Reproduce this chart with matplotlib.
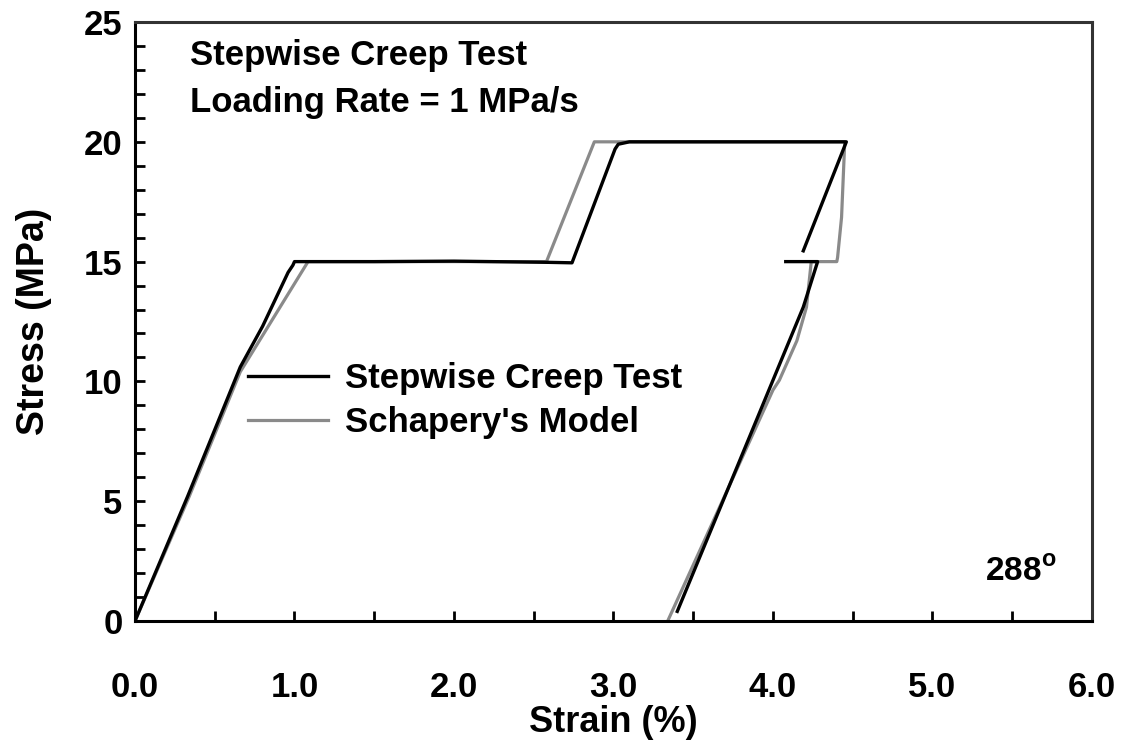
import numpy as np
import matplotlib
matplotlib.use("Agg")
from matplotlib import pyplot as plt
from matplotlib.ticker import MultipleLocator

plt.rcParams['font.family'] = ['Liberation Sans', 'DejaVu Sans']
plt.rcParams['font.weight'] = 'bold'
plt.rcParams['mathtext.fontset'] = 'custom'
plt.rcParams['mathtext.rm'] = 'Liberation Sans:bold'
plt.rcParams['mathtext.bf'] = 'Liberation Sans:bold'

# stepwise creep test (measured), NaN marks a gap in the record
test_strain = [0.0, 0.33, 0.66, 0.80, 0.96, 0.99, 1.00, 1.5, 2.0, 2.59, 2.74,
               3.01, 3.03, 3.10, 4.0, 4.46, 4.19, np.nan,
               4.08, 4.28, 4.19, 4.00, 3.40]
test_stress = [0.0, 5.2, 10.6, 12.3, 14.55, 14.85, 15.0, 15.0, 15.02, 14.97, 14.95,
               19.7, 19.9, 20.0, 20.0, 20.0, 15.45, np.nan,
               15.0, 15.0, 13.1, 10.05, 0.4]

# Schapery's model
model_strain = [0.0, 0.34, 0.66, 1.085, 2.58, 2.88, 4.45, 4.43, 4.405, 4.40,
                4.24, 4.21, 4.15, 4.04, 4.00, 3.34]
model_stress = [0.0, 5.2, 10.4, 15.0, 15.0, 20.0, 20.0, 16.85, 15.17, 15.0,
                15.0, 13.1, 11.7, 10.05, 9.64, 0.0]

fig = plt.figure(figsize=(11.24, 7.47), dpi=100)
ax = fig.add_axes([0.1201, 0.1687, 0.8514, 0.8018])

ax.plot(test_strain, test_stress, color='black', linewidth=2.4,
        label='Stepwise Creep Test', zorder=3)
ax.plot(model_strain, model_stress, color='#8a8a8a', linewidth=2.3,
        label="Schapery's Model", zorder=2)

ax.set_xlim(0, 6.0)
ax.set_ylim(0, 25)
ax.xaxis.set_major_locator(MultipleLocator(1.0))
ax.xaxis.set_minor_locator(MultipleLocator(0.5))
ax.yaxis.set_major_locator(MultipleLocator(5))
ax.yaxis.set_minor_locator(MultipleLocator(1))
ax.set_xticklabels([f'{v:.1f}' for v in ax.get_xticks()])

ax.tick_params(which='both', direction='in', length=7, width=2,
               top=False, right=False)
ax.tick_params(axis='x', which='major', pad=36, labelsize=25)
ax.tick_params(axis='y', which='major', pad=9, labelsize=25)
for s in ax.spines.values():
    s.set_linewidth(2.2)
ax.spines['top'].set_color('#333333')
ax.spines['right'].set_color('#333333')

ax.set_xlabel('Strain (%)', fontsize=26, fontweight='bold', labelpad=1)
ax.set_ylabel('Stress (MPa)', fontsize=27, fontweight='bold', labelpad=23)

ax.text(0.058, 0.972, 'Stepwise Creep Test\nLoading Rate = 1 MPa/s',
        transform=ax.transAxes, fontsize=25, fontweight='bold',
        va='top', ha='left', linespacing=1.55)
ax.text(5.55, 2.05, r'288$^{\mathrm{o}}$', fontsize=24, fontweight='bold',
        ha='center', va='center')

ax.legend(loc='upper left', bbox_to_anchor=(0.118, 0.432), frameon=False,
          fontsize=25, handlelength=2.3, handletextpad=0.5,
          labelspacing=0.3, borderaxespad=0, borderpad=0)

fig.savefig('out.png', dpi=100)
